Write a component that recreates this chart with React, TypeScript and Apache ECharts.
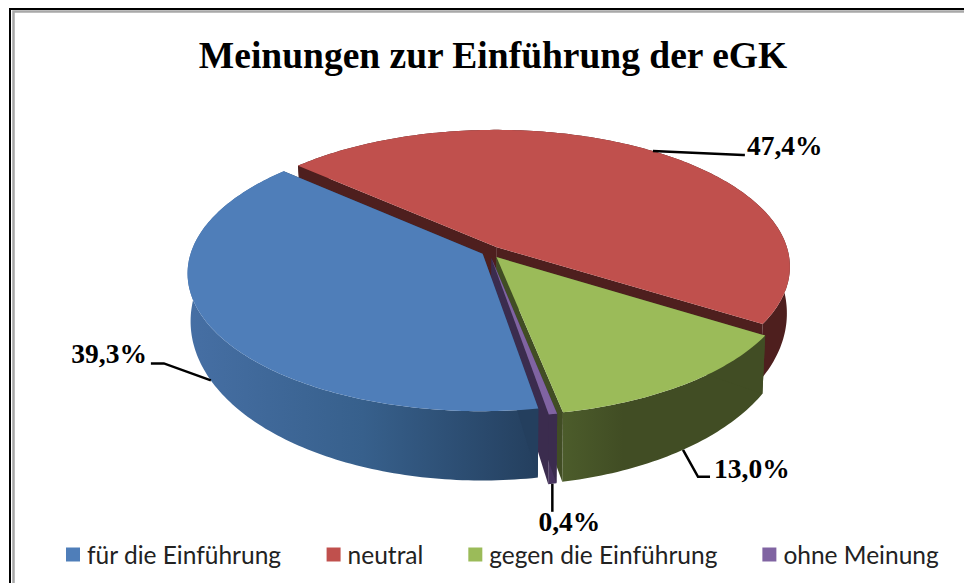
import React, { useEffect, useRef } from "react";
import * as echarts from "echarts";

const categories = ["für die Einführung", "neutral", "gegen die Einführung", "ohne Meinung"];
const shares = [39.3, 47.4, 13.0, 0.4];
const shareLabels = ["39,3%", "47,4%", "13,0%", "0,4%"];
const topColors = ["#4f7eb9", "#c0504d", "#9bbb59", "#8064a2"];
const title = "Meinungen zur Einführung der eGK";

// Layout of the 3D disc (perspective projection of a unit disc)
const CX = 489, CY = 252, A = 291.5, B = 135, K = 0.14;
const START_DEG = -48.3;
const EXPLODE = [0.025, 0.045, 0.045, 0.045];
const HEIGHT_BASE = 44, HEIGHT_SLOPE = 25, BASE_SCALE = 0.99;
const wallFill: any[] = [
  { type: "linear", x: 0, y: 0, x2: 1, y2: 0, colorStops: [{ offset: 0, color: "#466fa4" }, { offset: 0.5, color: "#37608c" }, { offset: 1, color: "#243f5e" }] },
  "#4e1f1e",
  { type: "linear", x: 0, y: 0, x2: 1, y2: 0, colorStops: [{ offset: 0, color: "#4c5c2b" }, { offset: 0.3, color: "#414d24" }, { offset: 1, color: "#414d24" }] },
  "#48345f",
];
const cutFill = ["#243f5e", "#4e1f1e", "#414d24", "#3b2c4e"];
// z2 order: walls behind, then top faces
const wallZ = [30, 5, 20, 25];
const topZ = [40, 10, 42, 44];
// leader elbows and label anchors, relative to each slice's rim/base point
const leaders = [
  { elbow: [-47, -17], end: [-60, -17], label: [-64, -27], align: "right" },
  { elbow: [90, 4], end: [92, 4], label: [94, -6], align: "left" },
  { elbow: [15, 27], end: [27, 27], label: [31, 19], align: "left" },
  { elbow: [0, 28], end: [0, 28], label: [17, 38], align: "center" },
];

const total = shares.reduce((s, v) => s + v, 0);
const rad = (d: number) => (d * Math.PI) / 180;

function project(u: number, v: number): [number, number] {
  const w = 1 - K * v;
  return [CX + (A * u) / w, CY + (B * v) / w];
}
function toBase(p: [number, number], v: number): [number, number] {
  return [CX + (p[0] - CX) * BASE_SCALE, p[1] + HEIGHT_BASE + HEIGHT_SLOPE * v];
}

function renderSlice(index: number) {
  return (_params: any, api: any) => {
    const value = api.value(0);
    // Order clockwise from the red slice's start
    const order = [1, 2, 3, 0];
    let acc = 0;
    for (const o of order) {
      if (o === index) break;
      acc += shares[o];
    }
    const start = START_DEG + (acc / total) * 360;
    const end = start + (value / total) * 360;
    const mid = (start + end) / 2;
    const e = EXPLODE[index];
    const ou = e * Math.sin(rad(mid));
    const ov = -e * Math.cos(rad(mid));
    const rim: { p: [number, number]; v: number }[] = [];
    const n = Math.max(2, Math.ceil(end - start));
    for (let i = 0; i <= n; i++) {
      const t = rad(start + ((end - start) * i) / n);
      const u = ou + Math.sin(t);
      const v = ov - Math.cos(t);
      rim.push({ p: project(u, v), v });
    }
    const apex = project(ou, ov);
    const apexBase = toBase(apex, ov);
    const topPts = rim.map((r) => r.p);
    const basePts = rim.map((r) => toBase(r.p, r.v));
    const children: any[] = [];
    // outer wall
    children.push({
      type: "polygon",
      z2: wallZ[index],
      shape: { points: [...topPts, ...basePts.slice().reverse()] },
      style: { fill: wallFill[index] },
    });
    // cut walls
    [0, rim.length - 1].forEach((k) => {
      children.push({
        type: "polygon",
        z2: wallZ[index] + 1,
        shape: { points: [apex, topPts[k], basePts[k], apexBase] },
        style: { fill: cutFill[index] },
      });
    });
    // top face
    children.push({
      type: "polygon",
      z2: topZ[index],
      shape: { points: [apex, ...topPts] },
      style: { fill: topColors[index] },
    });
    // leader & label
    const tm = rad(mid);
    const um = ou + Math.sin(tm);
    const vm = ov - Math.cos(tm);
    const pm = project(um, vm);
    const anchor = index === 1 ? pm : toBase(pm, vm);
    const l = leaders[index];
    children.push({
      type: "polyline",
      z2: 60,
      shape: {
        points: [
          anchor,
          [anchor[0] + l.elbow[0], anchor[1] + l.elbow[1]],
          [anchor[0] + l.end[0], anchor[1] + l.end[1]],
        ],
      },
      style: { stroke: "#000", lineWidth: 2.5, fill: "none" },
    });
    children.push({
      type: "text",
      z2: 60,
      x: anchor[0] + l.label[0],
      y: anchor[1] + l.label[1],
      style: {
        text: shareLabels[index],
        fill: "#000",
        font: 'bold 27.5px "Liberation Serif"',
        align: l.align,
        verticalAlign: "middle",
      },
    });
    return { type: "group", children };
  };
}

export default function App() {
  const ref = useRef<HTMLDivElement>(null);
  useEffect(() => {
    const chart = echarts.init(ref.current!, undefined, { renderer: "svg" });
    chart.setOption({
      animation: false,
      backgroundColor: "#fff",
      title: {
        text: title,
        left: 488,
        textAlign: "center",
        top: 31,
        textStyle: { fontFamily: "Liberation Serif", fontWeight: "bold", fontSize: 37.5, color: "#000" },
      },
      legend: {
        left: 61,
        top: 537,
        itemWidth: 14,
        itemHeight: 14,
        itemGap: 45,
        icon: "rect",
        data: categories,
        textStyle: { fontFamily: "Lato", fontSize: 24.5, color: "#222", padding: [0, 0, 0, 2] },
      },
      graphic: [
        { type: "rect", shape: { x: 10, y: 9, width: 970, height: 600 }, style: { fill: "none", stroke: "#000", lineWidth: 2 }, silent: true },
        { type: "rect", shape: { x: 13.5, y: 11.5, width: 970, height: 600 }, style: { fill: "none", stroke: "#a8a8a8", lineWidth: 2.5 }, silent: true },
      ],
      series: categories.map((name, i) => ({
        type: "custom",
        name,
        coordinateSystem: "none",
        itemStyle: { color: topColors[i] },
        renderItem: renderSlice(i),
        data: [[shares[i]]],
        silent: true,
      })),
    });
    return () => chart.dispose();
  }, []);
  return <div ref={ref} style={{ position: "fixed", left: 0, top: 0, width: 964, height: 583 }} />;
}
